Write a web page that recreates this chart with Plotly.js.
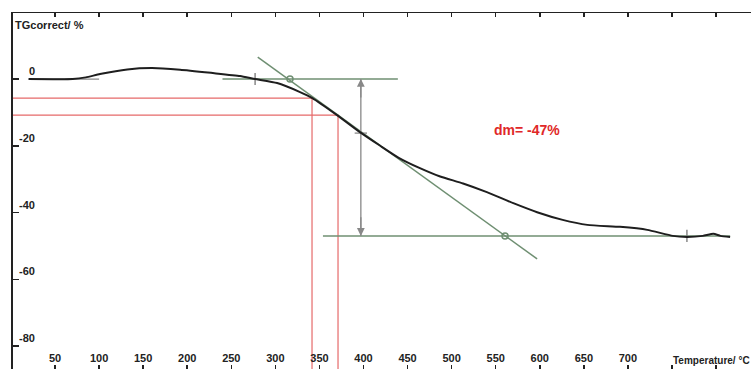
<!DOCTYPE html>
<html><head><meta charset="utf-8">
<script src="https://cdn.plot.ly/plotly-3.0.1.min.js"></script>
<style>html,body{margin:0;padding:0;background:#fff}#c{width:751px;height:369px}</style>
</head><body><div id="c"></div>
<script>
// TG curve
const temp = [20, 70, 85, 101, 132, 160, 192, 229, 260, 277, 302, 328, 342, 370, 396, 419, 440, 464, 487, 513, 540, 570, 597, 626, 654, 691, 722, 751, 767, 785, 797, 805, 816];
const tg   = [0, 0, 0.5, 1.5, 2.9, 3.3, 2.8, 1.8, 0.9, 0, -1.2, -3.9, -5.7, -10.8, -15.9, -20.0, -23.6, -26.7, -29.2, -31.3, -33.9, -37.2, -39.9, -42.2, -43.7, -44.3, -45.2, -47.0, -47.3, -47.0, -46.4, -47.0, -47.3];
// baseline segment at start
const startLineT = [20, 100];
const startLineV = [0, 0];
// step evaluation lines
const upperLineT = [240, 439];
const upperLineV = [0, 0];
const lowerLineT = [354, 816];
const lowerLineV = [-47, -47];
const tangentT = [280, 597];
const tangentV = [6.6, -53.9];
const circleT = [316.6, 560.6];
const circleV = [0, -47];
const stepT = 397;
const stepTop = 0, stepBottom = -47, stepMid = -16.2;
const markT = [277, 767];
const markV = [0, -47];
// red read-off lines
const redT = [341.6, 371.1];
const redV = [-5.7, -10.8];
const axisMinT = 2.3, axisMaxT = 839.7, axisMinV = -86.9, axisMaxV = 19.8;
// ticks
const xTickVals = [50,100,150,200,250,300,350,400,450,500,550,600,650,700,750,800];
const xTickText = ['50','100','150','200','250','300','350','400','450','500','550','600','650','700','',''];
const yTickVals = [0,-20,-40,-60,-80];
const yTickText = ['0','-20','-40','-60','-80'];
const dmLabel = 'dm= -47%';
const dmPos = [586, -15.3];

const green = '#6f8f72';
const F = 'Liberation Sans, Arial, sans-serif';
const traces = [];
// red lines
redT.forEach((t,i)=>{
  traces.push({x:[axisMinT, t, t], y:[redV[i], redV[i], axisMinV], mode:'lines', line:{color:'#e66a6a', width:1.2}, hoverinfo:'skip'});
});
traces.push({x:startLineT, y:startLineV, mode:'lines', line:{color:'#888', width:1.2}});
traces.push({x:upperLineT, y:upperLineV, mode:'lines', line:{color:green, width:1.5}});
traces.push({x:lowerLineT, y:lowerLineV, mode:'lines', line:{color:green, width:1.5}});
traces.push({x:tangentT, y:tangentV, mode:'lines', line:{color:green, width:1.5}});
traces.push({x:[stepT, stepT], y:[stepTop, stepBottom], mode:'lines', line:{color:'#888', width:1.3}});
traces.push({x:[stepT-7, stepT+7], y:[stepMid, stepMid], mode:'lines', line:{color:'#888', width:1.3}});
markT.forEach((t,i)=>{
  traces.push({x:[t,t], y:[markV[i]+1.8, markV[i]-1.8], mode:'lines', line:{color:'#777', width:1.3}});
});
traces.push({x:circleT, y:circleV, mode:'markers', marker:{symbol:'circle-open', size:6, color:green, line:{width:1.5, color:green}}});
traces.push({x:temp, y:tg, mode:'lines', line:{color:'#1e1e1e', width:2, shape:'spline', smoothing:0.5}});

const annotations = [];
yTickVals.forEach((v,i)=>{
  annotations.push({xref:'paper', yref:'y', x:0, y:v, xshift:24, yshift:8, xanchor:'right', yanchor:'middle', text:'<b>'+yTickText[i]+'</b>', showarrow:false, font:{family:F, size:11, color:'#222'}});
});
annotations.push({xref:'paper', yref:'paper', x:0, y:1, xshift:0, yshift:-4, xanchor:'left', yanchor:'top', text:'<b>TGcorrect/ %</b>', showarrow:false, font:{family:F, size:11, color:'#222'}});
annotations.push({xref:'x', yref:'paper', x:749, y:0, yshift:1, xanchor:'left', yanchor:'bottom', text:'<b>Temperature/ °C</b>', showarrow:false, font:{family:F, size:10, color:'#222'}});
annotations.push({xref:'x', yref:'y', x:dmPos[0], y:dmPos[1], text:'<b>'+dmLabel+'</b>', showarrow:false, font:{family:F, size:14, color:'#e02828'}});
// arrowheads
annotations.push({xref:'x', yref:'y', axref:'x', ayref:'y', x:stepT, y:stepTop, ax:stepT, ay:stepTop-6, text:'', showarrow:true, arrowhead:2, arrowsize:1.2, arrowwidth:1.3, arrowcolor:'#888'});
annotations.push({xref:'x', yref:'y', axref:'x', ayref:'y', x:stepT, y:stepBottom, ax:stepT, ay:stepBottom+6, text:'', showarrow:true, arrowhead:2, arrowsize:1.2, arrowwidth:1.3, arrowcolor:'#888'});

const layout = {
  width:751, height:369, margin:{l:13, r:0, t:13, b:0},
  paper_bgcolor:'#fff', plot_bgcolor:'#fff', showlegend:false,
  xaxis:{range:[axisMinT, axisMaxT], tickvals:xTickVals, ticktext:xTickText, ticks:'inside', ticklen:4, tickwidth:1.5, tickcolor:'#222',
    ticklabelposition:'inside', showgrid:false, zeroline:false, showline:true, linecolor:'#222', linewidth:1.5, mirror:'ticks',
    tickfont:{family:F, size:11, color:'#222', weight:'bold'}},
  yaxis:{range:[axisMinV, axisMaxV], tickvals:yTickVals, showticklabels:false, ticks:'inside', ticklen:6, tickwidth:1.5, tickcolor:'#222',
    showgrid:false, zeroline:false, showline:true, linecolor:'#222', linewidth:2},
  annotations:annotations
};
Plotly.newPlot('c', traces, layout, {staticPlot:true});
</script></body></html>
